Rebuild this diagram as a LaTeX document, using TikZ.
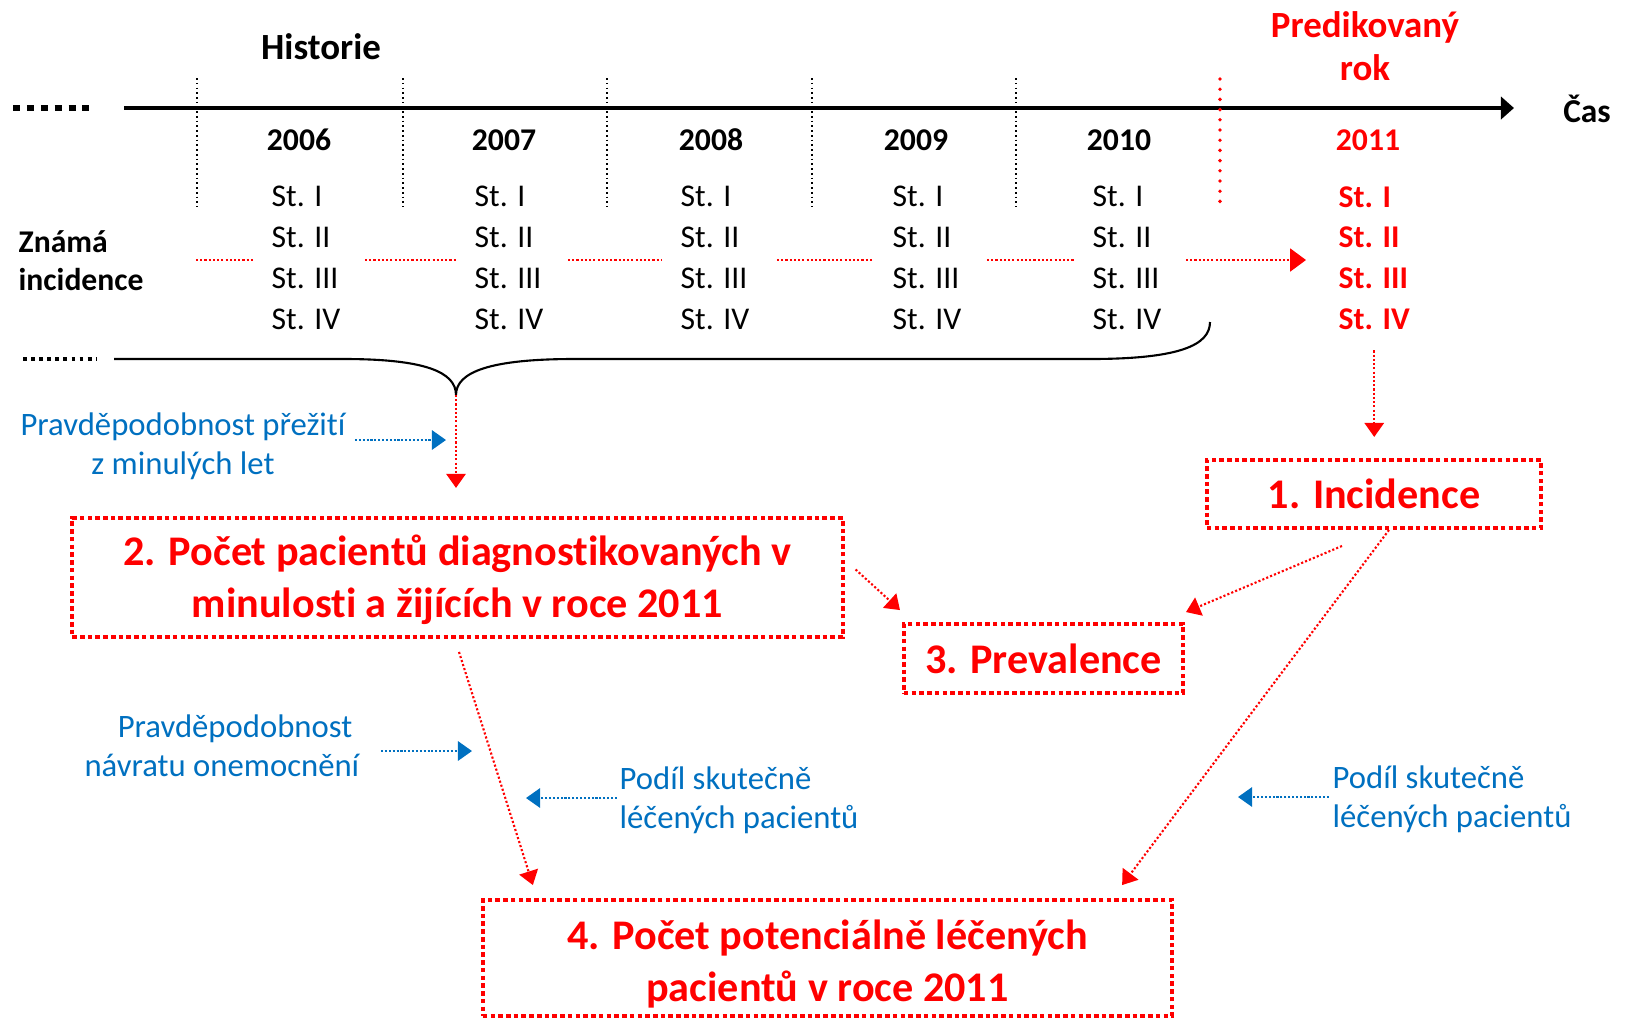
\documentclass[tikz,border=0pt]{standalone}
\usepackage{fontspec}
\setmainfont{Carlito}[RawFeature={-liga;-calt;-clig;-dlig}]
\usetikzlibrary{arrows.meta,calc}

\definecolor{predred}{RGB}{255,0,0}
\definecolor{noteblue}{RGB}{0,112,192}

\tikzset{
  >={Triangle[length=4pt,width=5.5pt]},
  stages/.style={anchor=west,inner sep=0pt,align=left,font=\fontsize{9}{11.6}\selectfont},
  yearlbl/.style={inner sep=0pt,font=\bfseries\fontsize{9}{11}\selectfont},
  stepbox/.style={draw=predred,text=predred,line width=1.1pt,dash pattern=on 1.3pt off 0.9pt,
    align=center,inner sep=0pt,font=\bfseries\fontsize{12}{14.8}\selectfont},
  steptext/.style={text=predred,align=center,inner sep=0pt,font=\bfseries\fontsize{12}{14.8}\selectfont},
  flow/.style={draw=predred,line width=0.6pt,dash pattern=on 0.6pt off 0.6pt},
  note/.style={text=noteblue,inner sep=0pt,font=\fontsize{9.3}{11}\selectfont},
  noteflow/.style={draw=noteblue,line width=0.6pt,dash pattern=on 0.6pt off 0.5pt,->},
  yearsep/.style={line width=0.45pt,dash pattern=on 0.45pt off 0.9pt},
}

\begin{document}
\begin{tikzpicture}[x=0.01cm,y=-0.01cm]
\useasboundingbox (0,0) rectangle (1626,1020);

% time axis
\draw[line width=1.9pt,dash pattern=on 2pt off 1.95pt] (13,108) -- (89,108);
\coordinate (t0) at (124,108); \coordinate (t1) at (1514,108);
\draw[line width=1.25pt,-{Triangle[length=3.7pt,width=6.3pt]}] (t0) -- (t1);
\node[font=\bfseries\fontsize{9.5}{11}\selectfont] (cas) at (1587,109) {Čas};
\node[font=\bfseries\fontsize{10.5}{12}\selectfont] (hist) at (321,47) {Historie};
\node[text=predred,align=center,font=\bfseries\fontsize{10.5}{12.2}\selectfont] (pred) at (1365,46.5) {Predikovaný\\rok};

\foreach \x in {197,403,607,812,1016} \draw[yearsep] (\x,78) -- (\x,207);
\draw[predred,line width=1.1pt,line cap=round,dash pattern=on 0pt off 2.9pt] (1220,79) -- (1220,202);

% years and stages
\node[yearlbl] (y2006) at (299,140) {2006}; \node[stages] (s2006) at (271,258) {St. I\\St. II\\St. III\\St. IV};
\node[yearlbl] (y2007) at (504,140) {2007}; \node[stages] (s2007) at (474,258) {St. I\\St. II\\St. III\\St. IV};
\node[yearlbl] (y2008) at (711,140) {2008}; \node[stages] (s2008) at (680,258) {St. I\\St. II\\St. III\\St. IV};
\node[yearlbl] (y2009) at (916,140) {2009}; \node[stages] (s2009) at (892,258) {St. I\\St. II\\St. III\\St. IV};
\node[yearlbl] (y2010) at (1119,140) {2010}; \node[stages] (s2010) at (1092,258) {St. I\\St. II\\St. III\\St. IV};
\node[yearlbl,text=predred] (y2011) at (1368,140) {2011};
\node[stages,text=predred,font=\bfseries\fontsize{9}{11.6}\selectfont] (s2011) at (1338,258) {St. I\\St. II\\St. III\\St. IV};

\node[anchor=west,inner sep=0pt,align=left,font=\bfseries\fontsize{9}{10.8}\selectfont] (known) at (18,261) {Známá\\incidence};

\foreach \a/\b [count=\i] in {196/255,365/457,568/662,777/873,987/1074} {
  \coordinate (fa\i) at (\a,260); \coordinate (fb\i) at (\b,260);
  \draw[flow] (fa\i) -- (fb\i);
}
\coordinate (fa6) at (1186,260); \coordinate (fb6) at (1306,260);
\draw[flow,-{Triangle[length=4.5pt,width=6.5pt]}] (fa6) -- (fb6);

% brace under the history
\draw[line width=0.9pt,dash pattern=on 1.1pt off 1.2pt] (23,359) -- (96,359);
\draw[line width=0.6pt] (114,359) -- (344,359) .. controls (425,359) and (456,372) .. (456,395) coordinate (tip)
  .. controls (456,372) and (490,359) .. (574,359) -- (1090,359) .. controls (1180,359) and (1210,345) .. (1210,322);

% steps
\node[stepbox,minimum width=3.34cm,minimum height=0.68cm] (incid) at (1374,494) {1. Incidence};
\node[stepbox,minimum width=7.7cm,minimum height=1.19cm] (past) at (457.5,577.5) {};
\node[steptext] (pasttext) at (457.5,580) {2. Počet pacientů diagnostikovaných v\\minulosti a žijících v roce 2011};
\node[stepbox,minimum width=2.79cm,minimum height=0.69cm] (preval) at (1043.5,658.5) {3. Prevalence};
\node[stepbox,minimum width=6.89cm,minimum height=1.16cm] (treated) at (827.5,958) {};
\node[steptext] (treatedtext) at (827.5,964) {4. Počet potenciálně léčených\\pacientů v roce 2011};

\draw[flow,->,shorten <=5.7pt,shorten >=6pt] (s2011.south) -- (s2011.south |- incid.north);
\draw[flow,->,shorten >=8pt] (tip) -- (tip |- past.north);
\draw[flow,->] ($(past.east)+(11,-8)$) -- ($(preval.north west)+(-2,-12)$);
\draw[flow,->] ($(incid.south)+(-32,16)$) -- ($(preval.north east)+(1,-10)$);
\draw[flow,->] ($(incid.south)+(15,0)$) -- ($(treated.north east)+(-52,-13)$);
\draw[flow,->] ($(past.south)+(1.5,13)$) -- ($(treated.north west)+(52,-13)$);

% notes
\node[note,align=center] (surv) at (183,446) {Pravděpodobnost přežití\\z minulých let};
\coordinate (sv) at (446,440);
\draw[noteflow,shorten <=2.5pt] (surv.east |- sv) -- (sv);

\node[note,align=right,anchor=east] (relapse) at (360,746) {Pravděpodobnost\hspace*{2pt}\\návratu onemocnění};
\coordinate (rl) at (472,751);
\draw[noteflow,shorten <=6pt] (relapse.east |- rl) -- (rl);

\node[note,align=left,anchor=west] (share1) at (619,800) {Podíl skutečně\\léčených pacientů};
\coordinate (sh1) at (526,798);
\draw[noteflow,shorten <=0.6pt] (share1.west |- sh1) -- (sh1);

\node[note,align=left,anchor=west] (share2) at (1332,799) {Podíl skutečně\\léčených pacientů};
\coordinate (sh2) at (1238,797);
\draw[noteflow,shorten <=0.9pt] (share2.west |- sh2) -- (sh2);
\end{tikzpicture}
\end{document}
